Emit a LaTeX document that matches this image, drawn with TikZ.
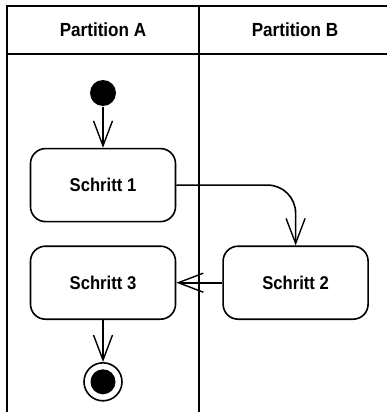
\documentclass[tikz,border=0pt]{standalone}
\usepackage{fontspec}
\setmainfont{Liberation Sans}
\newfontfamily\lanefont[FakeStretch=0.9]{Liberation Sans}
\usetikzlibrary{positioning,arrows.meta}

\begin{document}
\begin{tikzpicture}[x=1pt, y=-1pt, line width=1.6pt,
	>={Straight Barb[length=25pt, width=19pt, line width=1.4pt]},
	lanetitle/.style={font=\lanefont\bfseries\fontsize{19}{22}\selectfont},
	action/.style={rectangle, rounded corners=15pt, draw, minimum width=145pt, minimum height=73pt,
		font=\lanefont\bfseries\fontsize{18.5}{22}\selectfont},
	initial/.style={circle, fill=black, minimum size=26pt, inner sep=0pt},
	final/.style={circle, draw, minimum size=38pt, inner sep=0pt,
		path picture={\fill (path picture bounding box.center) circle (12.5pt);}}]
	\useasboundingbox (0,0) rectangle (387,412);
	\clip (0,0) rectangle (387,412);
	% swimlanes
	\draw (7,430) -- (7,6) -- (400,6);
	\draw (7,54) -- (400,54);
	\draw (199,6) -- (199,430);
	\node[lanetitle] (titleA) at (103,30) {Partition A};
	\node[lanetitle] (titleB) at (295,30) {Partition B};
	% activity
	\node[initial] (start) at (103,93) {};
	\node[action] (s1) [below=41pt of start] {Schritt 1};
	\node[action] (s3) [below=23pt of s1] {Schritt 3};
	\node[action] (s2) [right=46pt of s3] {Schritt 2};
	\node[final] (end) [below=42pt of s3] {};

	\draw[->] (start) -- (s1);
	\draw[->, rounded corners=28pt] (s1.east) -| (s2.north);
	\draw[->] (s2) -- (s3);
	\draw[->] (s3) -- (end);
\end{tikzpicture}
\end{document}
